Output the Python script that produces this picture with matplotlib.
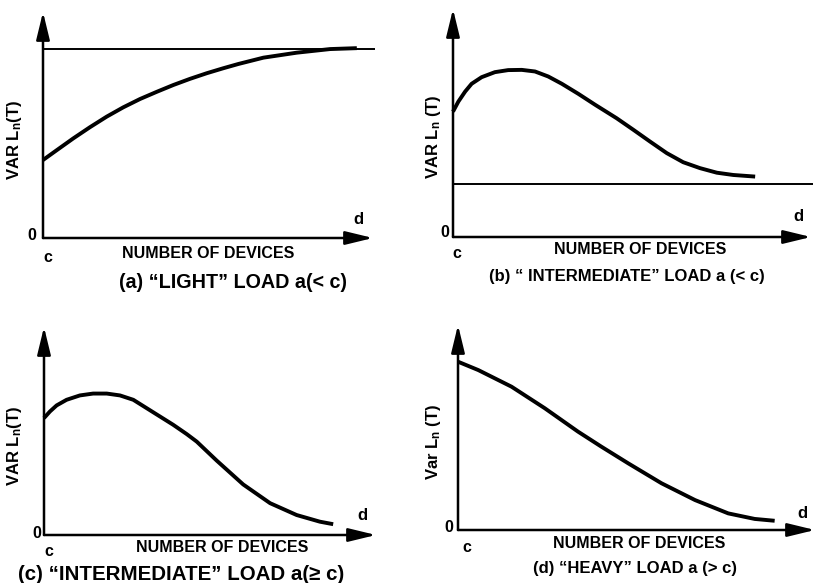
import numpy as np
import matplotlib
matplotlib.use('Agg')
import matplotlib.pyplot as plt

plt.rcParams['font.family'] = ['Liberation Sans', 'DejaVu Sans']
plt.rcParams['mathtext.default'] = 'regular'

W, H = 815, 583

# curve samples, x = share of the device axis (c -> d), y = share of the VAR axis
light_x = [0.0, 0.042, 0.092, 0.142, 0.193, 0.243, 0.294, 0.345, 0.395, 0.445,
           0.496, 0.546, 0.592, 0.668, 0.769, 0.870, 0.951]
light_y = [0.345, 0.389, 0.441, 0.490, 0.537, 0.578, 0.615, 0.647, 0.677, 0.704,
           0.729, 0.751, 0.770, 0.798, 0.820, 0.836, 0.840]
light_limit = 0.835

inter_lo_x = [0.0, 0.015, 0.034, 0.052, 0.080, 0.117, 0.154, 0.192, 0.229, 0.266,
              0.304, 0.350, 0.397, 0.457, 0.504, 0.550, 0.597, 0.643, 0.690, 0.737,
              0.783, 0.844]
inter_lo_y = [0.550, 0.594, 0.638, 0.672, 0.701, 0.723, 0.732, 0.733, 0.726, 0.704,
              0.672, 0.628, 0.580, 0.521, 0.470, 0.419, 0.368, 0.328, 0.302, 0.282,
              0.272, 0.265]
inter_lo_limit = 0.231

inter_hi_x = [0.0, 0.018, 0.038, 0.068, 0.108, 0.148, 0.189, 0.229, 0.269, 0.309,
              0.349, 0.389, 0.430, 0.460, 0.520, 0.600, 0.681, 0.761, 0.831, 0.871]
inter_hi_y = [0.562, 0.594, 0.623, 0.650, 0.671, 0.680, 0.680, 0.671, 0.650, 0.610,
              0.570, 0.530, 0.485, 0.449, 0.358, 0.243, 0.153, 0.096, 0.064, 0.052]

heavy_x = [0.0, 0.057, 0.150, 0.243, 0.336, 0.402, 0.477, 0.570, 0.664, 0.757, 0.831, 0.887]
heavy_y = [0.821, 0.780, 0.699, 0.594, 0.480, 0.406, 0.325, 0.228, 0.146, 0.081, 0.054, 0.045]

ylabels = ['VAR L$_n$(T)', 'VAR L$_n$ (T)', 'VAR L$_n$(T)', 'Var L$_n$ (T)']
captions = ['(a) \u201cLIGHT\u201d LOAD a(< c)',
            '(b) \u201c INTERMEDIATE\u201d LOAD a (< c)',
            '(c) \u201cINTERMEDIATE\u201d LOAD a(\u2265 c)',
            '(d) \u201cHEAVY\u201d LOAD a (> c)']
curves = [(light_x, light_y), (inter_lo_x, inter_lo_y), (inter_hi_x, inter_hi_y), (heavy_x, heavy_y)]
limits = [light_limit, inter_lo_limit, None, None]

# panel frames in pixels: origin x, origin y, x-arrow tip, y-arrow tip
frames = [(43, 238, 373, 12), (453, 237, 811, 9), (44, 535, 376, 327), (458, 530, 815, 325)]
# text anchors in pixels
ylab_pos = [(15, 140), (433, 137), (15, 446), (433, 442)]
xlab_pos = [(208, 254), (640, 250), (222, 547), (639, 544)]
cap_pos = [(233, 282), (627, 276), (181, 575), (635, 569)]
zero_pos = [(32, 236), (445, 232), (37, 533), (449, 527)]
c_pos = [(48, 258), (457, 254), (49, 551), (467, 548)]
d_pos = [(358, 220), (798, 217), (362, 516), (802, 513)]
cap_size = [14.2, 12.0, 14.8, 12.0]


def fx(px):
    return px / W


def fy(py):
    return 1 - py / H


fig = plt.figure(figsize=(W / 100, H / 100), dpi=100)
fig.patch.set_facecolor('white')

arrow = dict(arrowstyle='-|>,head_length=1.4,head_width=0.34', mutation_scale=12,
             lw=1.8, color='black', shrinkA=0, shrinkB=0)

for i in range(4):
    x0, y0, x1, y1 = frames[i]
    ax = fig.add_axes([fx(x0), fy(y0), fx(x1) - fx(x0), fy(y1) - fy(y0)])
    ax.set_xlim(0, 1)
    ax.set_ylim(0, 1)
    ax.axis('off')

    ax.annotate('', xy=(1, 0), xytext=(0, 0), arrowprops=arrow, annotation_clip=False)
    ax.annotate('', xy=(0, 1), xytext=(0, 0), arrowprops=arrow, annotation_clip=False)

    if limits[i] is not None:
        ax.plot([0, 1.005], [limits[i], limits[i]], color='black', lw=1.4,
                solid_capstyle='butt', clip_on=False)

    cx, cy = curves[i]
    ax.plot(cx, cy, color='black', lw=2.8, solid_joinstyle='round',
            solid_capstyle='butt', clip_on=False)

    fig.text(fx(ylab_pos[i][0]), fy(ylab_pos[i][1]), ylabels[i], rotation=90,
             ha='center', va='center', fontsize=12, fontweight='bold')
    fig.text(fx(xlab_pos[i][0]), fy(xlab_pos[i][1]), 'NUMBER OF DEVICES',
             ha='center', va='center', fontsize=11.5, fontweight='bold')
    fig.text(fx(cap_pos[i][0]), fy(cap_pos[i][1]), captions[i],
             ha='center', va='center', fontsize=cap_size[i], fontweight='bold')
    fig.text(fx(zero_pos[i][0]), fy(zero_pos[i][1]), '0',
             ha='center', va='center', fontsize=11.5, fontweight='bold')
    fig.text(fx(c_pos[i][0]), fy(c_pos[i][1]), 'c',
             ha='center', va='center', fontsize=11.5, fontweight='bold')
    fig.text(fx(d_pos[i][0]), fy(d_pos[i][1]), 'd',
             ha='center', va='center', fontsize=12, fontweight='bold')

fig.savefig('out.png', dpi=100, facecolor='white')
